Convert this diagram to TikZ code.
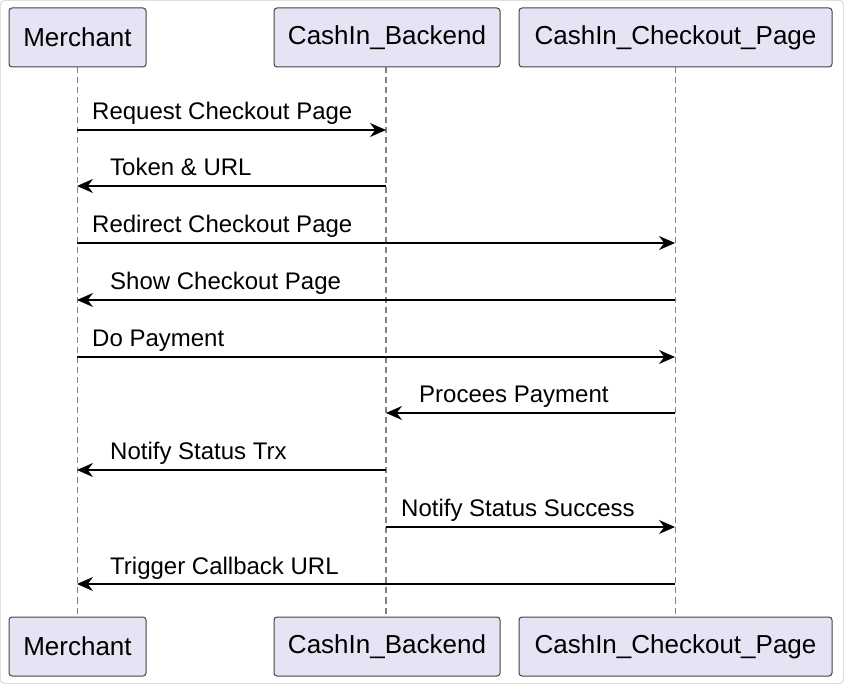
\documentclass[tikz,border=0pt]{standalone}
\usepackage{fontspec}
\setmainfont{Liberation Sans}
\usetikzlibrary{arrows.meta}
\definecolor{actorfill}{HTML}{E4E4F4}
\definecolor{actorline}{HTML}{444444}
\tikzstyle{actor} = [rectangle, rounded corners=3pt,
minimum height=59pt,
text centered,
draw=actorline,
line width=1pt,
fill=actorfill,
font=\fontsize{26}{30}\selectfont]
\tikzstyle{lifeline} = [draw=gray, dashed, dash pattern=on 6pt off 4pt, line width=1.2pt]
\tikzstyle{msg} = [line width=1.8pt, -{Stealth[length=16pt,width=14pt]}]
\tikzstyle{lbl} = [anchor=base west, inner sep=0pt, font=\fontsize{24}{28}\selectfont]

\begin{document}
\begin{tikzpicture}[x=1pt,y=-1pt]
\useasboundingbox (0,0) rectangle (844,684);
\draw[gray!70, rounded corners=4pt] (0.5,0.5) rectangle (843.5,683.5);
% actors
\node (mtop) [actor, minimum width=137pt] at (77.5,37.5) {Merchant};
\node (btop) [actor, minimum width=226pt] at (387,37.5) {CashIn\_Backend};
\node (ctop) [actor, minimum width=313pt] at (675.5,37.5) {CashIn\_Checkout\_Page};
\node (mbot) [actor, minimum width=137pt] at (77.5,646.5) {Merchant};
\node (bbot) [actor, minimum width=226pt] at (387,646.5) {CashIn\_Backend};
\node (cbot) [actor, minimum width=313pt] at (675.5,646.5) {CashIn\_Checkout\_Page};
% lifelines
\draw[lifeline] (mtop) -- (mbot);
\draw[lifeline] (btop.south -| 386,0) -- (bbot.north -| 386,0);
\draw[lifeline] (ctop) -- (cbot);
\foreach \i/\y in {1/130,2/186,3/243,4/300,5/357,6/413,7/470,8/527,9/584}{
  \coordinate (m\i) at (77,\y);
  \coordinate (b\i) at (386,\y);
  \coordinate (c\i) at (675,\y);
}
% messages
\draw[msg] (m1) -- (b1);
\node[lbl] at ([shift={(15,-10)}]m1) {Request Checkout Page};
\draw[msg] (b2) -- (m2);
\node[lbl] at ([shift={(33,-10)}]m2) {Token \& URL};
\draw[msg] (m3) -- (c3);
\node[lbl] at ([shift={(15,-10)}]m3) {Redirect Checkout Page};
\draw[msg] (c4) -- (m4);
\node[lbl] at ([shift={(33,-10)}]m4) {Show Checkout Page};
\draw[msg] (m5) -- (c5);
\node[lbl] at ([shift={(15,-10)}]m5) {Do Payment};
\draw[msg] (c6) -- (b6);
\node[lbl] at ([shift={(33,-10)}]b6) {Procees Payment};
\draw[msg] (b7) -- (m7);
\node[lbl] at ([shift={(33,-10)}]m7) {Notify Status Trx};
\draw[msg] (b8) -- (c8);
\node[lbl] at ([shift={(15,-10)}]b8) {Notify Status Success};
\draw[msg] (c9) -- (m9);
\node[lbl] at ([shift={(33,-10)}]m9) {Trigger Callback URL};
\end{tikzpicture}
\end{document}
